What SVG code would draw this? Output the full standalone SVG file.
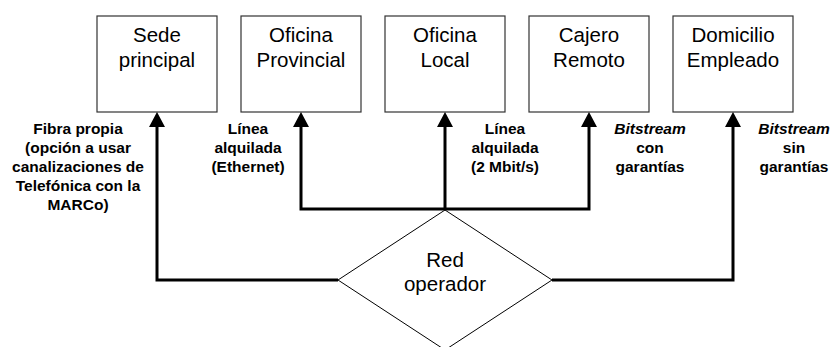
<svg xmlns="http://www.w3.org/2000/svg" width="833" height="347" viewBox="0 0 833 347">
<style>
.box{fill:#fff;stroke:#333;stroke-width:1.2}
.dia{fill:#fff;stroke:#000;stroke-width:1}
.nt{font-family:"Liberation Sans",Arial,sans-serif;font-size:20.5px;fill:#000;text-anchor:middle}
.lb{font-family:"Liberation Sans",Arial,sans-serif;font-size:15.5px;font-weight:bold;fill:#000;text-anchor:middle}
.it{font-style:italic}
.con{fill:none;stroke:#000;stroke-width:3;stroke-linejoin:miter}
</style>
<defs>
<marker id="ah" markerUnits="userSpaceOnUse" viewBox="0 0 15 16" refX="0" refY="8" markerWidth="15" markerHeight="16" orient="auto">
<path d="M0,0 L15,8 L0,16 z" fill="#000"/>
</marker>
</defs>
<g id="node-sede"><rect class="box" x="97" y="16" width="120" height="96"/><text class="nt" x="157" y="42">Sede</text><text class="nt" x="157" y="66.5">principal</text></g>
<g id="node-provincial"><rect class="box" x="241" y="16" width="120" height="96"/><text class="nt" x="301" y="42">Oficina</text><text class="nt" x="301" y="66.5">Provincial</text></g>
<g id="node-local"><rect class="box" x="385" y="16" width="120" height="96"/><text class="nt" x="445" y="42">Oficina</text><text class="nt" x="445" y="66.5">Local</text></g>
<g id="node-cajero"><rect class="box" x="529" y="16" width="120" height="96"/><text class="nt" x="589" y="42">Cajero</text><text class="nt" x="589" y="66.5">Remoto</text></g>
<g id="node-domicilio"><rect class="box" x="673" y="16" width="120" height="96"/><text class="nt" x="733" y="42">Domicilio</text><text class="nt" x="733" y="66.5">Empleado</text></g>
<g id="node-red"><polygon class="dia" points="445,210 552,280 445,350 338,280"/><text class="nt" x="445" y="267">Red</text><text class="nt" x="445" y="291">operador</text></g>
<g id="connectors">
<path class="con" d="M338,280 H157 V127" marker-end="url(#ah)"/>
<path class="con" d="M445,210 V127" marker-end="url(#ah)"/>
<path class="con" d="M445,209 H301 V127" marker-end="url(#ah)"/>
<path class="con" d="M445,209 H589 V127" marker-end="url(#ah)"/>
<path class="con" d="M552,280 H733 V127" marker-end="url(#ah)"/>
</g>
<g id="labels">
<text class="lb" x="78" y="134">Fibra propia</text>
<text class="lb" x="78" y="153">(opción a usar</text>
<text class="lb" x="78" y="172">canalizaciones de</text>
<text class="lb" x="78" y="191">Telefónica con la</text>
<text class="lb" x="78" y="210">MARCo)</text>
<text class="lb" x="248" y="134">Línea</text>
<text class="lb" x="248" y="153">alquilada</text>
<text class="lb" x="248" y="172">(Ethernet)</text>
<text class="lb" x="505" y="134">Línea</text>
<text class="lb" x="505" y="153">alquilada</text>
<text class="lb" x="505" y="172">(2 Mbit/s)</text>
<text class="lb it" x="650" y="134">Bitstream</text>
<text class="lb" x="650" y="153">con</text>
<text class="lb" x="650" y="172">garantías</text>
<text class="lb it" x="794" y="134">Bitstream</text>
<text class="lb" x="794" y="153">sin</text>
<text class="lb" x="794" y="172">garantías</text>
</g>
</svg>
